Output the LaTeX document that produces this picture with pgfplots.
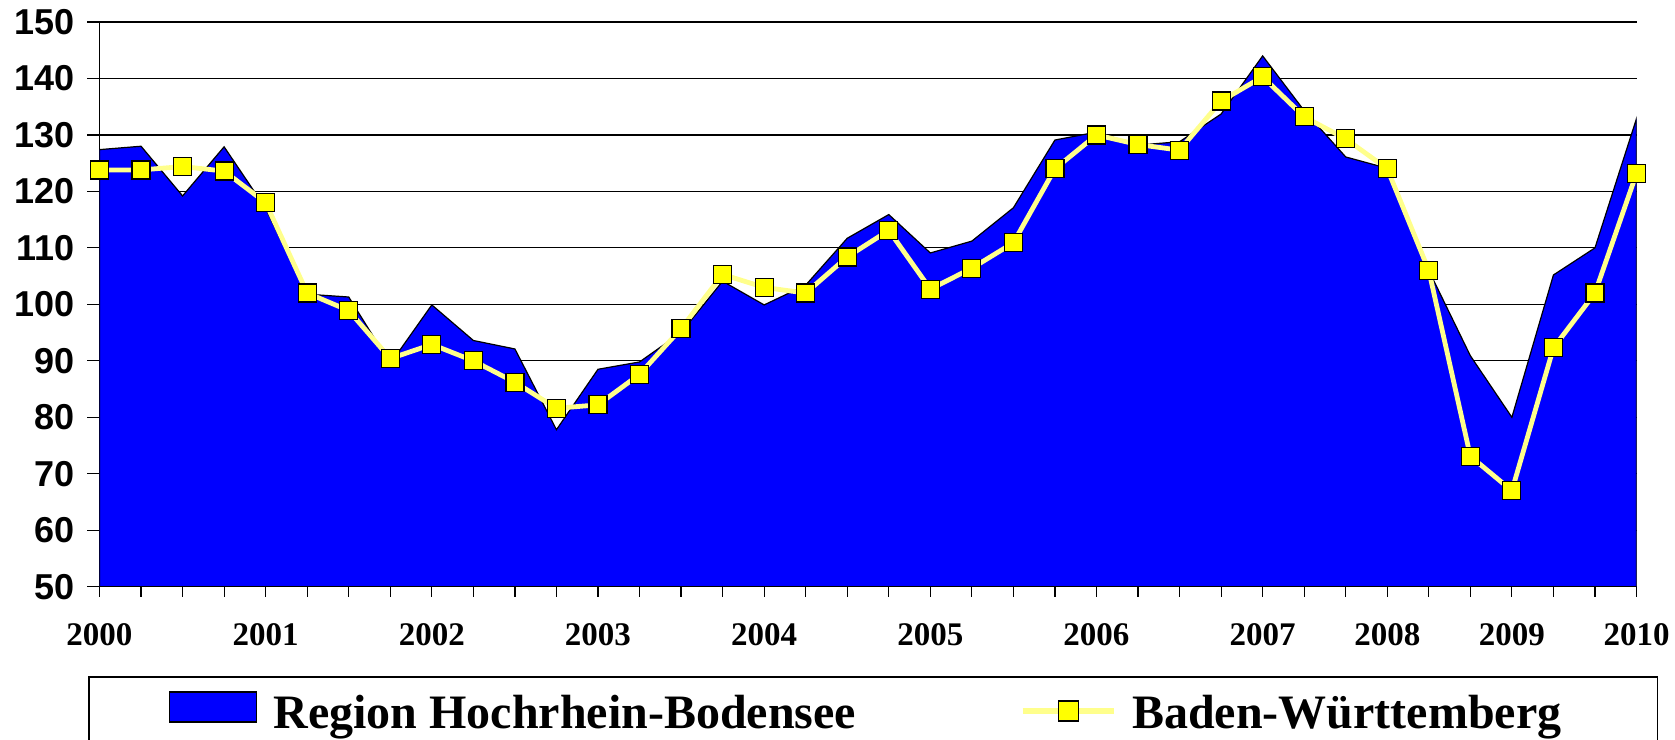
\documentclass[border=0pt]{standalone}
\usepackage{fontspec}
\setmainfont{Liberation Serif}
\setsansfont{Liberation Sans}
\usepackage{pgfplots}
\pgfplotsset{compat=1.18}
\definecolor{areablue}{RGB}{0,0,255}
\definecolor{lineyellow}{RGB}{255,255,140}
\definecolor{markyellow}{RGB}{255,255,0}
\begin{document}
\begin{tikzpicture}
\begin{axis}[
  at={(0,0)}, anchor=south west,
  scale only axis, width=768.5pt, height=282.35pt,
  xmin=0, xmax=37, ymin=50, ymax=150,
  set layers=standard,
  axis x line*=bottom, axis y line*=left,
  axis line style={black, line width=0.7pt, /pgfplots/on layer=axis foreground},
  xtick={0,...,37},
  xticklabels={2000,,,,2001,,,,2002,,,,2003,,,,2004,,,,2005,,,,2006,,,,2007,,,2008,,,2009,,,2010},
  ytick={50,60,...,150},
  yticklabels={50,60,70,80,90,100,110,120,130,140,150},
  ymajorgrids, grid style={black, line width=0.6pt},
  tick align=outside,
  x tick style={black, line width=0.6pt},
  y tick style={black, line width=0.6pt},
  xtick style={/pgfplots/major tick length=5pt},
  ytick style={/pgfplots/major tick length=6pt},
  xticklabel style={font=\fontsize{16.5}{17}\selectfont\bfseries, yshift=-10.5pt},
  yticklabel style={font=\fontsize{18}{19}\selectfont\sffamily\bfseries, xshift=-4.5pt},
  legend columns=2,
  legend style={at={(0,0)}, anchor=north west, xshift=-5.75pt, yshift=-44.65pt,
    draw=black, line width=0.8pt, inner xsep=40pt, inner ysep=6pt,
    font=\fontsize{24}{27}\selectfont\bfseries,
    nodes={inner xsep=8pt, inner ysep=3pt},
    /tikz/every even column/.append style={column sep=74pt}},
  legend cell align=left,
]
\addplot[fill=areablue, draw=black, line width=0.6pt,
  legend image code/.code={\draw[fill=areablue, draw=black, line width=0.8pt] (0pt,-4.5pt) rectangle (43.5pt,10.5pt);}]
table {
x y
0 127.4
1 128.0
2 119.2
3 127.9
4 117.0
5 101.8
6 101.3
7 89.5
8 99.9
9 93.6
10 92.1
11 77.8
12 88.5
13 89.8
14 95.0
15 104.1
16 99.9
17 103.4
18 111.7
19 115.9
20 109.1
21 111.2
22 117.1
23 129.1
24 130.5
25 128.2
26 128.8
27 133.7
28 144.0
29 134.3
30 126.1
31 124.1
32 106.0
33 90.9
34 80.0
35 105.2
36 110.0
37 132.9
} \closedcycle;
\addlegendentry{Region Hochrhein-Bodensee}
\addplot[lineyellow, line width=2.4pt, mark=square*,
  mark size=4.5pt, mark options={fill=markyellow, draw=black, line width=0.6pt},
  legend image code/.code={\draw[lineyellow, line width=2.6pt] (0pt,1pt) -- (45.5pt,1pt);
     \draw[fill=markyellow, draw=black, line width=0.6pt] (18pt,-4pt) rectangle (28pt,6pt);}]
table {
x y
0 123.8
1 123.8
2 124.4
3 123.6
4 118.0
5 102.0
6 98.9
7 90.4
8 92.9
9 90.0
10 86.2
11 81.6
12 82.2
13 87.6
14 95.7
15 105.3
16 103.0
17 102.0
18 108.4
19 113.1
20 102.7
21 106.4
22 110.9
23 124.0
24 130.0
25 128.3
26 127.3
27 136.0
28 140.3
29 133.2
30 129.3
31 124.0
32 106.0
33 73.1
34 67.0
35 92.3
36 102.0
37 123.2
};
\addlegendentry{Baden-Württemberg}
\end{axis}
\pgfresetboundingbox
\path[use as bounding box] (-49.75pt,-76.15pt) rectangle (787.75pt,293.35pt);
\end{tikzpicture}
\end{document}
